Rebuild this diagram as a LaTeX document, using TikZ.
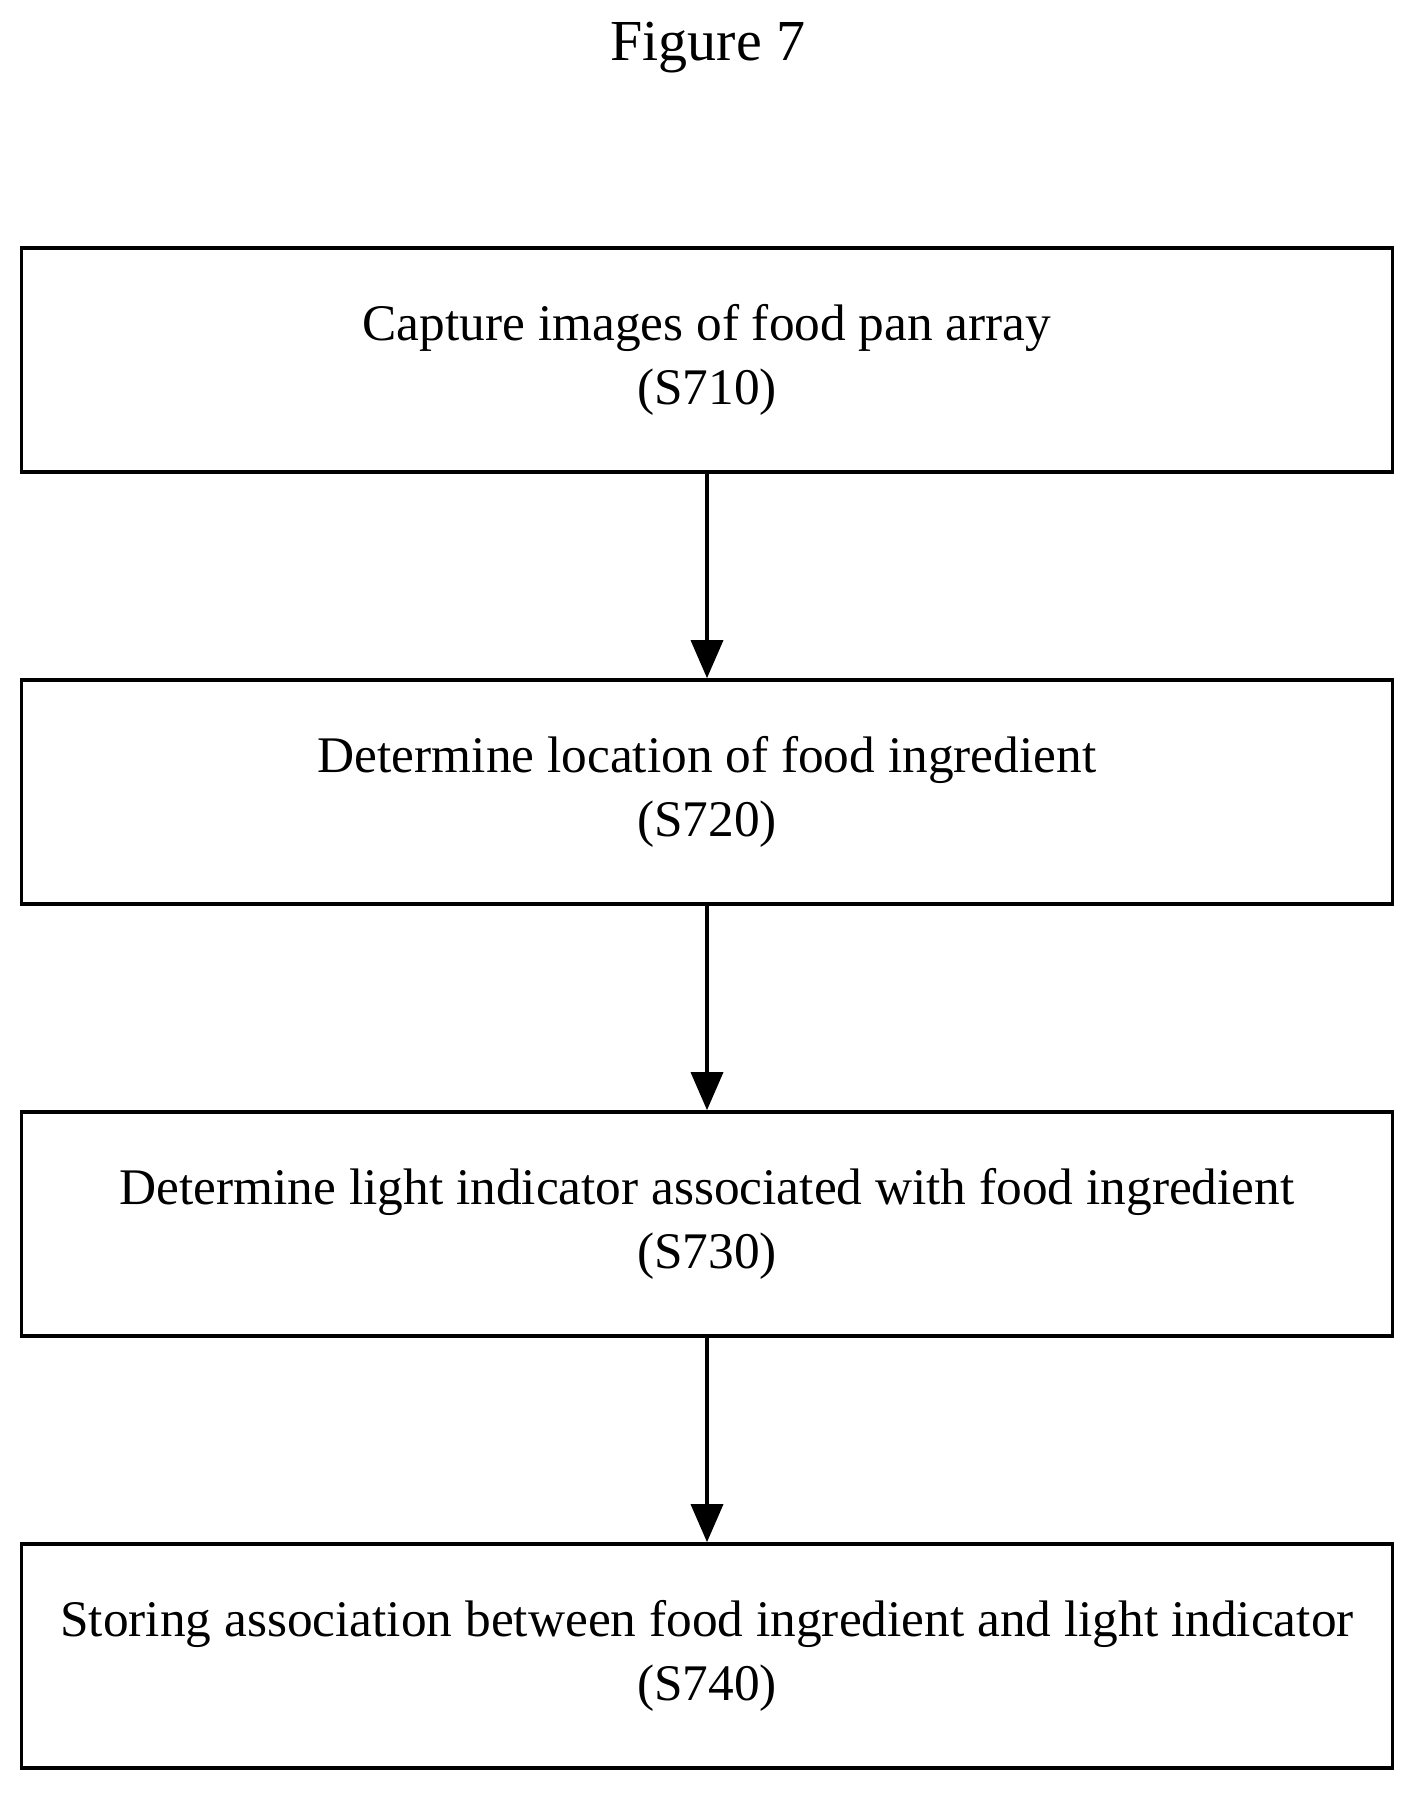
\documentclass[tikz,border=0pt]{standalone}
\usepackage{fontspec}
\setmainfont{Liberation Serif}
\usetikzlibrary{positioning}
\usetikzlibrary{arrows.meta}
\tikzset{
    stepbox/.style={rectangle, draw, line width=1pt, minimum width=13.7cm, minimum height=2.24cm, align=center, font=\fontsize{14.6}{18}\selectfont},
    flow/.style={draw, line width=1pt, -{Triangle[length=0.38cm,width=0.32cm]}}
}
\begin{document}
\begin{tikzpicture}[x=0.01cm,y=-0.01cm]
        \useasboundingbox (0,0) rectangle (1416,1798);

        \node[font=\fontsize{16.5}{18}\selectfont] (title) at (708,48) {Figure 7};

        % Process steps
        \node[stepbox] (s710) at (707,360) {Capture images of food pan array\\(S710)};
        \node[stepbox] (s720) at (707,792) {Determine location of food ingredient\\(S720)};
        \node[stepbox] (s730) at (707,1224) {Determine light indicator associated with food ingredient\\(S730)};
        \node[stepbox] (s740) at (707,1656) {Storing association between food ingredient and light indicator\\(S740)};

        % Flow between steps
        \draw[flow] (s710) -- (s720);
        \draw[flow] (s720) -- (s730);
        \draw[flow] (s730) -- (s740);

\end{tikzpicture}
\end{document}
